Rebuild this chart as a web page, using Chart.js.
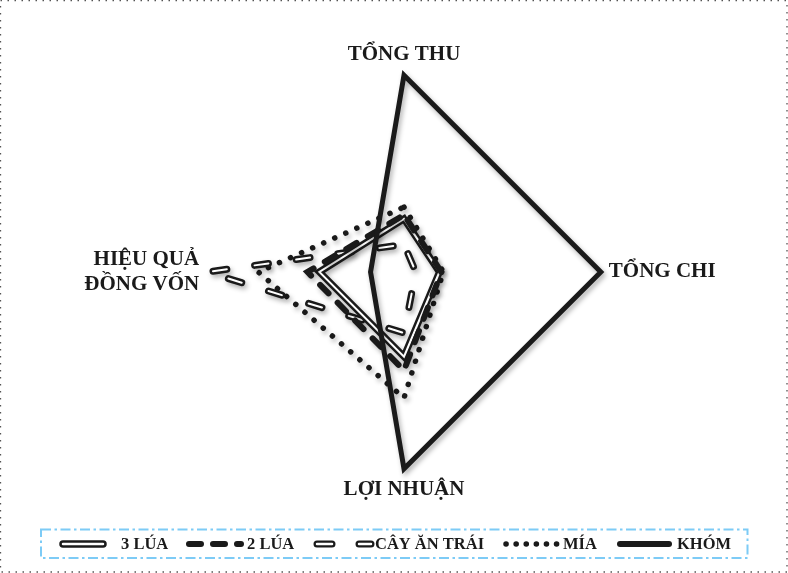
<!DOCTYPE html>
<html><head><meta charset="utf-8">
<script src="https://cdn.jsdelivr.net/npm/chart.js@4.4.1/dist/chart.umd.min.js"></script>
<style>
html,body{margin:0;padding:0;background:#fff;}
#wrap{position:relative;width:788px;height:573px;}
canvas{display:block;}
</style></head>
<body><div id="wrap"><canvas id="c" width="788" height="573"></canvas></div>
<script>
// ---- data ----
const categories = ['TỔNG THU', 'TỔNG CHI', 'LỢI NHUẬN', ['HIỆU QUẢ', 'ĐỒNG VỐN']];
const seriesNames = ['3 LÚA', '2 LÚA', 'CÂY ĂN TRÁI', 'MÍA', 'KHÓM'];
const lua3      = [0.27, 0.18, 0.43, 0.43];
const lua2      = [0.29, 0.19, 0.50, 0.49];
const cayAnTrai = [0.14, 0.06, 0.31, 1.00];
const mia       = [0.33, 0.20, 0.64, 0.74];
const khom      = [1.00, 1.00, 1.00, 0.17];

const INK = '#1a1a1a';
const base = {fill:false, pointRadius:0, pointHoverRadius:0, borderJoinStyle:'miter', tension:0};

const datasets = [
  Object.assign({}, base, {label:seriesNames[4], data:khom, borderColor:INK, borderWidth:5, borderCapStyle:'round', order:0, key:4}),
  Object.assign({}, base, {label:seriesNames[1], data:lua2, borderColor:INK, borderWidth:6, borderCapStyle:'round', borderDash:[12,13], borderDashOffset:-6.3, order:1, key:1}),
  Object.assign({}, base, {label:seriesNames[0]+' ', data:lua3, borderColor:'#ffffff', borderWidth:2, borderCapStyle:'round', order:2, inner:true, key:0}),
  Object.assign({}, base, {label:seriesNames[0], data:lua3, borderColor:INK, borderWidth:7, borderCapStyle:'round', order:3, key:0}),
  Object.assign({}, base, {label:seriesNames[2]+' ', data:cayAnTrai, borderColor:'#ffffff', borderWidth:2, borderCapStyle:'round', borderDash:[14,28], borderDashOffset:-10, order:4, inner:true, key:2}),
  Object.assign({}, base, {label:seriesNames[2], data:cayAnTrai, borderColor:INK, borderWidth:7, borderCapStyle:'round', borderDash:[14,28], borderDashOffset:-10, order:5, key:2}),
  Object.assign({}, base, {label:seriesNames[3], data:mia, borderColor:INK, borderWidth:5.5, borderCapStyle:'round', borderDash:[0.1,12], order:6, key:3})
];

const shadowPlugin = {
  id:'shadowPlugin',
  beforeDatasetDraw(chart, args){
    const ds = chart.data.datasets[args.index];
    const c = chart.ctx;
    c.save();
    if (!ds.inner){
      c.shadowColor = 'rgba(0,0,0,0.3)';
      c.shadowBlur = 5;
      c.shadowOffsetX = 2;
      c.shadowOffsetY = 3;
    }
  },
  afterDatasetDraw(chart){ chart.ctx.restore(); }
};

function strokeSample(c, x1, x2, y, ds){
  c.save();
  c.strokeStyle = ds.borderColor;
  c.lineWidth = ds.borderWidth;
  c.lineCap = ds.borderCapStyle || 'butt';
  c.setLineDash(ds.borderDash || []);
  c.lineDashOffset = 0;
  c.beginPath(); c.moveTo(x1, y); c.lineTo(x2, y); c.stroke();
  c.restore();
}

const legendPlugin = {
  id:'customLegend',
  afterDraw(chart){
    const c = chart.ctx;
    // outer dotted frame
    c.save();
    c.strokeStyle = '#555'; c.lineWidth = 1.3; c.setLineDash([1.5,5.5]);
    c.strokeRect(0.5, 0.5, 786.5, 571.5);
    c.restore();
    // legend box
    c.save();
    c.strokeStyle = '#7dcbf6'; c.lineWidth = 2; c.setLineDash([10,3.5,2.5,3.5]);
    c.strokeRect(41, 529.5, 706.5, 28.5);
    c.restore();
    const y = 544;
    const slots = [
      {x1:63, x2:103, tx:121},
      {x1:189, x2:241, tx:247},
      {x1:317, x2:371, tx:375},
      {x1:506, x2:557, tx:563},
      {x1:620, x2:669, tx:677}
    ];
    const dashOverride = {1:[12,12], 2:[15,27], 3:[0.1,10]};
    seriesNames.forEach((name, k) => {
      const s = slots[k];
      const group = chart.data.datasets.filter(d => d.key === k);
      const outer = group.find(d => !d.inner);
      const inner = group.find(d => d.inner);
      const o = Object.assign({}, outer, dashOverride[k] ? {borderDash:dashOverride[k]} : {});
      if (k === 0) o.borderWidth = 7.5;
      if (k === 4) o.borderWidth = 6;
      strokeSample(c, s.x1, s.x2, y, o);
      if (inner){
        const i = Object.assign({}, inner, dashOverride[k] ? {borderDash:dashOverride[k]} : {});
        i.borderWidth = 2.5;
        strokeSample(c, s.x1, s.x2, y, i);
      }
      c.save();
      c.fillStyle = INK;
      c.font = 'bold 16.5px "Liberation Serif", "Times New Roman", serif';
      c.textBaseline = 'middle';
      c.textAlign = 'left';
      c.fillText(name, s.tx, y + 1);
      c.restore();
    });
  }
};

new Chart(document.getElementById('c').getContext('2d'), {
  type:'radar',
  data:{labels:categories, datasets:datasets},
  options:{
    responsive:false,
    animation:false,
    events:[],
    layout:{padding:{top:43, bottom:70, left:20, right:0}},
    plugins:{legend:{display:false}, tooltip:{enabled:false}},
    scales:{
      r:{
        min:0, max:1,
        ticks:{display:false},
        grid:{display:false},
        angleLines:{display:false},
        pointLabels:{
          font:{family:'"Liberation Serif", "Times New Roman", serif', size:21, weight:'bold'},
          color:INK,
          padding:8
        }
      }
    }
  },
  plugins:[shadowPlugin, legendPlugin]
});
</script>
</body></html>
